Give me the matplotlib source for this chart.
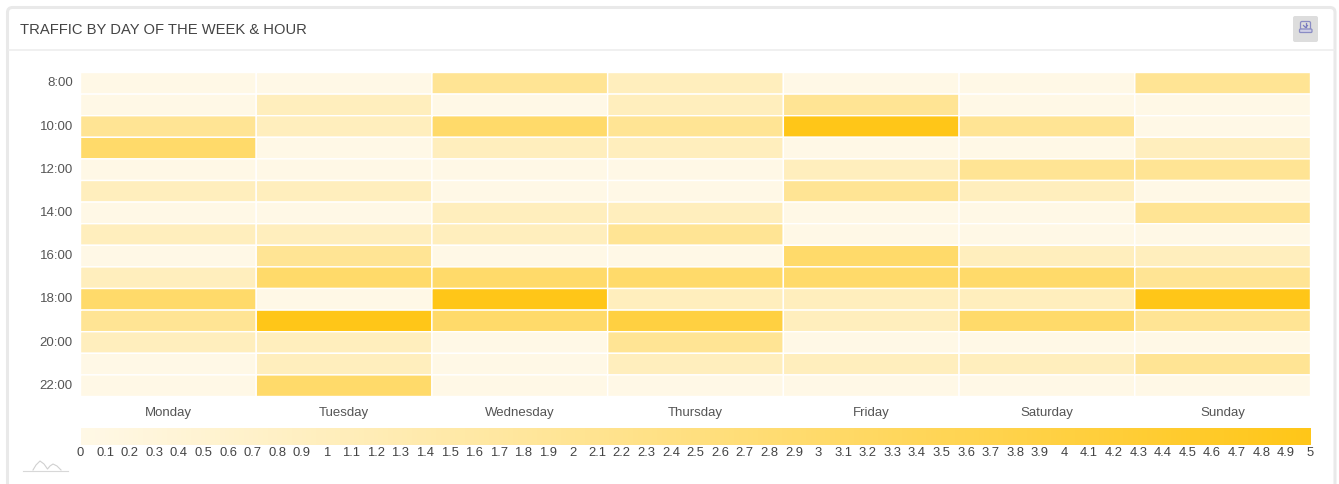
import matplotlib
matplotlib.use("Agg")
import matplotlib.pyplot as plt
from matplotlib.colors import LinearSegmentedColormap
from matplotlib.patches import FancyBboxPatch
from matplotlib.transforms import ScaledTranslation
import numpy as np

W, H = 1339, 484

plt.rcParams['font.family'] = ['Liberation Sans', 'DejaVu Sans']

days = ["Monday", "Tuesday", "Wednesday", "Thursday", "Friday", "Saturday", "Sunday"]
hours = ["8:00", "9:00", "10:00", "11:00", "12:00", "13:00", "14:00", "15:00",
         "16:00", "17:00", "18:00", "19:00", "20:00", "21:00", "22:00"]

# one list per day, 8:00 to 22:00
monday = [0, 0, 2, 3, 0, 1, 0, 1, 0, 1, 3, 2, 1, 0, 0]
tuesday = [0, 1, 1, 0, 0, 1, 0, 1, 2, 3, 0, 5, 1, 1, 3]
wednesday = [2, 0, 3, 1, 0, 0, 1, 1, 0, 3, 5, 3, 0, 0, 0]
thursday = [1, 1, 2, 1, 0, 0, 1, 2, 0, 3, 1, 4, 2, 1, 0]
friday = [0, 2, 5, 0, 1, 2, 0, 0, 3, 3, 1, 1, 0, 1, 0]
saturday = [0, 0, 2, 0, 2, 1, 0, 0, 1, 3, 1, 3, 0, 1, 0]
sunday = [2, 0, 0, 1, 2, 0, 2, 0, 1, 2, 5, 2, 0, 2, 0]

scale_ticks = [round(i / 10, 1) for i in range(51)]
scale_labels = [str(int(t)) if t == int(t) else str(t) for t in scale_ticks]


def px_axes(x0, y0, x1, y1):
    return fig.add_axes([x0 / W, 1 - y1 / H, (x1 - x0) / W, (y1 - y0) / H])


fig = plt.figure(figsize=(W / 100, H / 100), dpi=100, facecolor="white")

# card chrome, drawn in pixel coords
bg = fig.add_axes([0, 0, 1, 1])
bg.set_xlim(0, W)
bg.set_ylim(H, 0)
bg.axis("off")
bg.add_patch(FancyBboxPatch((7.5, 7.5), 1327.5, 490, boxstyle="round,pad=0,rounding_size=5",
                            fc="white", ec="#e9e9e9", lw=2.2))
bg.plot([9, 1334], [49.5, 49.5], color="#eeeeee", lw=1.2)
bg.text(20, 29.5, "TRAFFIC BY DAY OF THE WEEK & HOUR", fontsize=10.6, color="#444444",
        va="center", ha="left")

# export button
bg.add_patch(FancyBboxPatch((1293, 16), 25, 26, boxstyle="round,pad=0,rounding_size=2",
                            fc="#dddddd", ec="none"))
bg.add_patch(FancyBboxPatch((1300.5, 21.5), 10, 8, boxstyle="round,pad=0,rounding_size=1.5",
                            fc="none", ec="#8a8cc4", lw=0.9))
bg.add_patch(FancyBboxPatch((1299.5, 29), 12.5, 3.5, boxstyle="round,pad=0,rounding_size=1",
                            fc="#d0d0e6", ec="#8a8cc4", lw=0.9))
bg.plot([1305.5, 1305.5], [23, 27], color="#7a7cc0", lw=0.9)
bg.plot([1303.5, 1305.5, 1307.5], [25.5, 27.5, 25.5], color="#7a7cc0", lw=0.9)

# small logo bottom left
bg.plot([33, 36, 40, 44, 47.5, 50, 53, 57, 61],
        [470, 465, 461, 464, 469, 466, 464, 466, 470],
        color="#d0d0d0", lw=0.8)
bg.plot([23, 68], [471, 471], color="#d8d8d8", lw=0.8)

cmap = LinearSegmentedColormap.from_list("traffic", ["#fff8e6", "#ffc618"])

values = np.array([monday, tuesday, wednesday, thursday, friday, saturday, sunday]).T

ax = px_axes(80.5, 72.5, 1310.5, 396.5)
mesh = ax.pcolormesh(np.arange(len(days) + 1), np.arange(len(hours) + 1), values,
                     cmap=cmap, vmin=0, vmax=5, edgecolors="white", linewidth=1.0,
                     antialiased=True, snap=False)
ax.set_ylim(len(hours), 0)
ax.set_xlim(0, len(days))
ax.set_xticks(np.arange(len(days)) + 0.5, days)
ax.set_yticks(np.arange(0, len(hours), 2) + 0.5, hours[::2])
ax.tick_params(length=0, labelsize=9.5, labelcolor="#555555")
ax.tick_params(axis="x", pad=7.5)
ax.tick_params(axis="y", pad=5.5)
# hour labels sit a little above the row centres
for lab in ax.get_yticklabels():
    lab.set_transform(lab.get_transform() + ScaledTranslation(0, 1.5 / 100, fig.dpi_scale_trans))
for s in ax.spines.values():
    s.set_visible(False)

cax = px_axes(80.5, 428, 1310.5, 445)
cb = fig.colorbar(mesh, cax=cax, orientation="horizontal")
cb.outline.set_visible(False)
cb.set_ticks(scale_ticks, labels=scale_labels)
cb.minorticks_off()
cax.tick_params(length=0, labelsize=9.4, labelcolor="#444444", pad=1.5)

fig.savefig("out.png", dpi=100, facecolor="white")
